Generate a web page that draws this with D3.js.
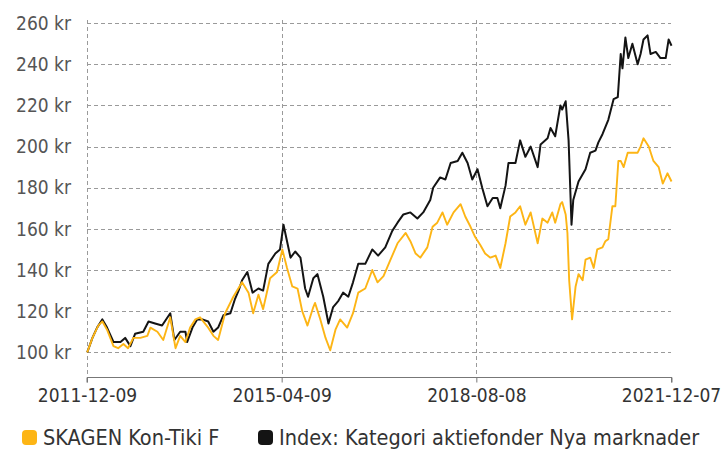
<!DOCTYPE html>
<head>
<meta charset="utf-8">
<style>
body, html {
  margin: 0;
  padding: 0;
  background: #fff;
  font-family: "DejaVu Sans Condensed", "DejaVu Sans";
  font-stretch: condensed;
}
.grid line {
  stroke: #9a9a9a;
  stroke-width: 1;
  stroke-dasharray: 4,3;
}
.axis text {
  font-size: 19px;
}
.line {
  fill: none;
  stroke-linejoin: round;
}
</style>
<script src="https://d3js.org/d3.v7.min.js"></script>
</head>
<body>
<div id="chart"></div>
<script>

// values, dates as decimal years
var indexYears = [2011.94, 2012.03, 2012.11, 2012.20, 2012.28, 2012.39, 2012.51, 2012.59, 2012.68, 2012.76,
  2012.90, 2012.99, 2013.10, 2013.22, 2013.36, 2013.43, 2013.53, 2013.62, 2013.65, 2013.74,
  2013.82, 2013.91, 2014.01, 2014.10, 2014.18, 2014.27, 2014.39, 2014.47, 2014.53, 2014.59,
  2014.68, 2014.77, 2014.87, 2014.95, 2015.04, 2015.16, 2015.24, 2015.30, 2015.36, 2015.42,
  2015.50, 2015.59, 2015.67, 2015.72, 2015.81, 2015.88, 2015.98, 2016.07, 2016.15, 2016.24,
  2016.32, 2016.41, 2016.49, 2016.58, 2016.70, 2016.82, 2016.92, 2017.04, 2017.16, 2017.25,
  2017.35, 2017.47, 2017.59, 2017.69, 2017.81, 2017.86, 2017.98, 2018.07, 2018.16, 2018.28,
  2018.36, 2018.45, 2018.53, 2018.62, 2018.70, 2018.79, 2018.88, 2018.96, 2019.01, 2019.10,
  2019.15, 2019.27, 2019.35, 2019.44, 2019.53, 2019.65, 2019.70, 2019.82, 2019.87, 2019.95,
  2020.04, 2020.07, 2020.13, 2020.18, 2020.23, 2020.26, 2020.35, 2020.47, 2020.55, 2020.64,
  2020.69, 2020.76, 2020.86, 2020.95, 2021.02, 2021.07, 2021.10, 2021.15, 2021.20, 2021.27,
  2021.36, 2021.41, 2021.46, 2021.53, 2021.58, 2021.67, 2021.75, 2021.84, 2021.89, 2021.94];
var indexValues = [100, 107, 112, 116, 112, 105, 105, 107, 103, 109,
  110, 115, 114, 113, 119, 106, 110, 110, 105, 112,
  116, 116, 115, 110, 112, 118, 119, 126, 130, 135,
  139, 129, 131, 130, 143, 148, 150, 162, 154, 146,
  149, 146, 131, 127, 136, 138, 127, 114, 122, 125,
  129, 127, 134, 143, 143, 150, 147, 151, 159, 163,
  167, 168, 165, 168, 174, 180, 185, 184, 192, 193,
  197, 192, 184, 189, 180, 171, 175, 175, 170, 181,
  192, 192, 203, 195, 200, 190, 201, 204, 209, 205,
  220, 218, 222, 203, 162, 174, 183, 189, 197, 198,
  202, 206, 213, 223, 224, 245, 238, 253, 243, 250,
  240, 245, 252, 254, 245, 246, 243, 243, 252, 249];

var kontikiYears = [2011.94, 2012.03, 2012.13, 2012.20, 2012.28, 2012.39, 2012.47, 2012.56, 2012.64, 2012.73,
  2012.85, 2012.97, 2013.02, 2013.14, 2013.24, 2013.36, 2013.45, 2013.53, 2013.62, 2013.70,
  2013.79, 2013.87, 2014.01, 2014.10, 2014.18, 2014.30, 2014.44, 2014.59, 2014.70, 2014.78,
  2014.87, 2014.95, 2015.07, 2015.19, 2015.28, 2015.36, 2015.45, 2015.54, 2015.62, 2015.71,
  2015.81, 2015.84, 2015.93, 2016.02, 2016.10, 2016.19, 2016.27, 2016.39, 2016.49, 2016.58,
  2016.70, 2016.82, 2016.91, 2017.01, 2017.13, 2017.25, 2017.39, 2017.47, 2017.56, 2017.64,
  2017.76, 2017.85, 2017.93, 2018.02, 2018.10, 2018.21, 2018.33, 2018.41, 2018.50, 2018.58,
  2018.67, 2018.75, 2018.84, 2018.93, 2019.01, 2019.10, 2019.18, 2019.27, 2019.35, 2019.44,
  2019.53, 2019.65, 2019.73, 2019.82, 2019.90, 2019.95, 2020.04, 2020.07, 2020.13, 2020.16,
  2020.19, 2020.24, 2020.30, 2020.35, 2020.42, 2020.47, 2020.55, 2020.61, 2020.67, 2020.76,
  2020.81, 2020.86, 2020.93, 2020.98, 2021.03, 2021.07, 2021.12, 2021.19, 2021.27, 2021.36,
  2021.41, 2021.46, 2021.55, 2021.63, 2021.72, 2021.79, 2021.87, 2021.94];
var kontikiValues = [100, 107, 113, 115, 111, 103, 102, 104, 102, 107,
  107, 108, 112, 110, 106, 117, 102, 108, 105, 112,
  116, 117, 112, 108, 106, 119, 127, 134, 129, 119,
  128, 121, 136, 139, 150, 141, 132, 131, 120, 113,
  122, 124, 116, 107, 101, 111, 116, 112, 119, 129,
  131, 140, 134, 137, 145, 153, 158, 154, 148, 146,
  151, 161, 163, 168, 162, 168, 172, 166, 161, 156,
  152, 148, 146, 147, 141, 153, 166, 168, 171, 162,
  168, 153, 165, 163, 168, 163, 172, 173, 167, 158,
  135, 116, 132, 138, 135, 145, 146, 141, 150, 151,
  154, 155, 171, 171, 193, 193, 190, 197, 197, 197,
  200, 204, 200, 193, 190, 182, 187, 183];

var yTicks = [100, 120, 140, 160, 180, 200, 220, 240, 260];
var xTickLabels = ["2011-12-09", "2015-04-09", "2018-08-08", "2021-12-07"];
var seriesNames = ["SKAGEN Kon-Tiki F", "Index: Kategori aktiefonder Nya marknader"];
var seriesColors = ["#fdb515", "#141414"];

//--------------------------------------
function yearToDate(yv) {
  var yr = Math.floor(yv);
  var start = new Date(yr, 0, 1);
  return new Date(start.getTime() + (yv - yr) * 365.25 * 864e5);
}

function toPoints(years, values) {
  return years.map(function(yv, i) { return [yearToDate(yv), values[i]]; });
}

//==========================================
var width = 726,
    height = 450,
    plotLeft = 87,
    plotRight = 671,
    plotTop = 20,
    plotBottom = 377;

var parseDate = d3.timeParse("%Y-%m-%d");
var tickDates = xTickLabels.map(parseDate);

var x = d3.scaleTime()
    .domain([tickDates[0], tickDates[tickDates.length - 1]])
    .range([plotLeft, plotRight]);

var y = d3.scaleLinear()
    .domain([88, 261.5])
    .range([plotBottom, plotTop]);

var svg = d3.select("#chart").append("svg")
    .attr("width", width)
    .attr("height", height);

// horizontal grid
svg.append("g")
    .attr("class", "grid")
    .selectAll("line")
    .data(yTicks)
  .enter().append("line")
    .attr("x1", plotLeft)
    .attr("x2", plotRight)
    .attr("y1", function(d) { return Math.round(y(d)) + 0.5; })
    .attr("y2", function(d) { return Math.round(y(d)) + 0.5; });

// vertical grid (not on the last tick)
svg.append("g")
    .attr("class", "grid")
    .selectAll("line")
    .data(tickDates.slice(0, 3))
  .enter().append("line")
    .attr("x1", function(d) { return Math.round(x(d)) + 0.5; })
    .attr("x2", function(d) { return Math.round(x(d)) + 0.5; })
    .attr("y1", plotTop)
    .attr("y2", plotBottom);

// y axis labels
svg.append("g")
    .attr("class", "axis")
    .selectAll("text")
    .data(yTicks)
  .enter().append("text")
    .attr("x", 71)
    .attr("y", function(d) { return y(d); })
    .attr("dy", "0.35em")
    .attr("text-anchor", "end")
    .attr("fill", "#555")
    .text(function(d) { return d + " kr"; });

// x axis
var xAxis = d3.axisBottom(x)
    .tickValues(tickDates)
    .tickSize(5)
    .tickFormat(d3.timeFormat("%Y-%m-%d"));

var gx = svg.append("g")
    .attr("class", "axis")
    .attr("transform", "translate(0," + (plotBottom + 0.5) + ")")
    .call(xAxis);
gx.attr("font-family", null).attr("font-size", null);
gx.select(".domain").attr("stroke", "#777").attr("d", "M" + plotLeft + ",5V0H" + (plotRight + 1) + "V5");
gx.selectAll(".tick line").attr("stroke", "#777");
gx.selectAll(".tick text")
    .attr("fill", "#333")
    .attr("y", 11);

// lines
var line = d3.line()
    .x(function(d) { return x(d[0]); })
    .y(function(d) { return y(d[1]); });

svg.append("path")
    .datum(toPoints(indexYears, indexValues))
    .attr("class", "line")
    .attr("stroke", seriesColors[1])
    .attr("stroke-width", 2)
    .attr("d", line);

svg.append("path")
    .datum(toPoints(kontikiYears, kontikiValues))
    .attr("class", "line")
    .attr("stroke", seriesColors[0])
    .attr("stroke-width", 1.9)
    .attr("d", line);

// legend
var legendX = [22, 258];
var legend = svg.selectAll(".legend")
    .data(seriesNames)
  .enter().append("g")
    .attr("class", "legend")
    .attr("transform", function(d, i) { return "translate(" + legendX[i] + ",430)"; });

legend.append("rect")
    .attr("width", 15)
    .attr("height", 15)
    .attr("rx", 4)
    .attr("fill", function(d, i) { return seriesColors[i]; });

legend.append("text")
    .attr("x", 21)
    .attr("y", 15)
    .attr("font-size", 21.5)
    .attr("fill", "#333")
    .text(function(d) { return d; });

</script>
</body>
